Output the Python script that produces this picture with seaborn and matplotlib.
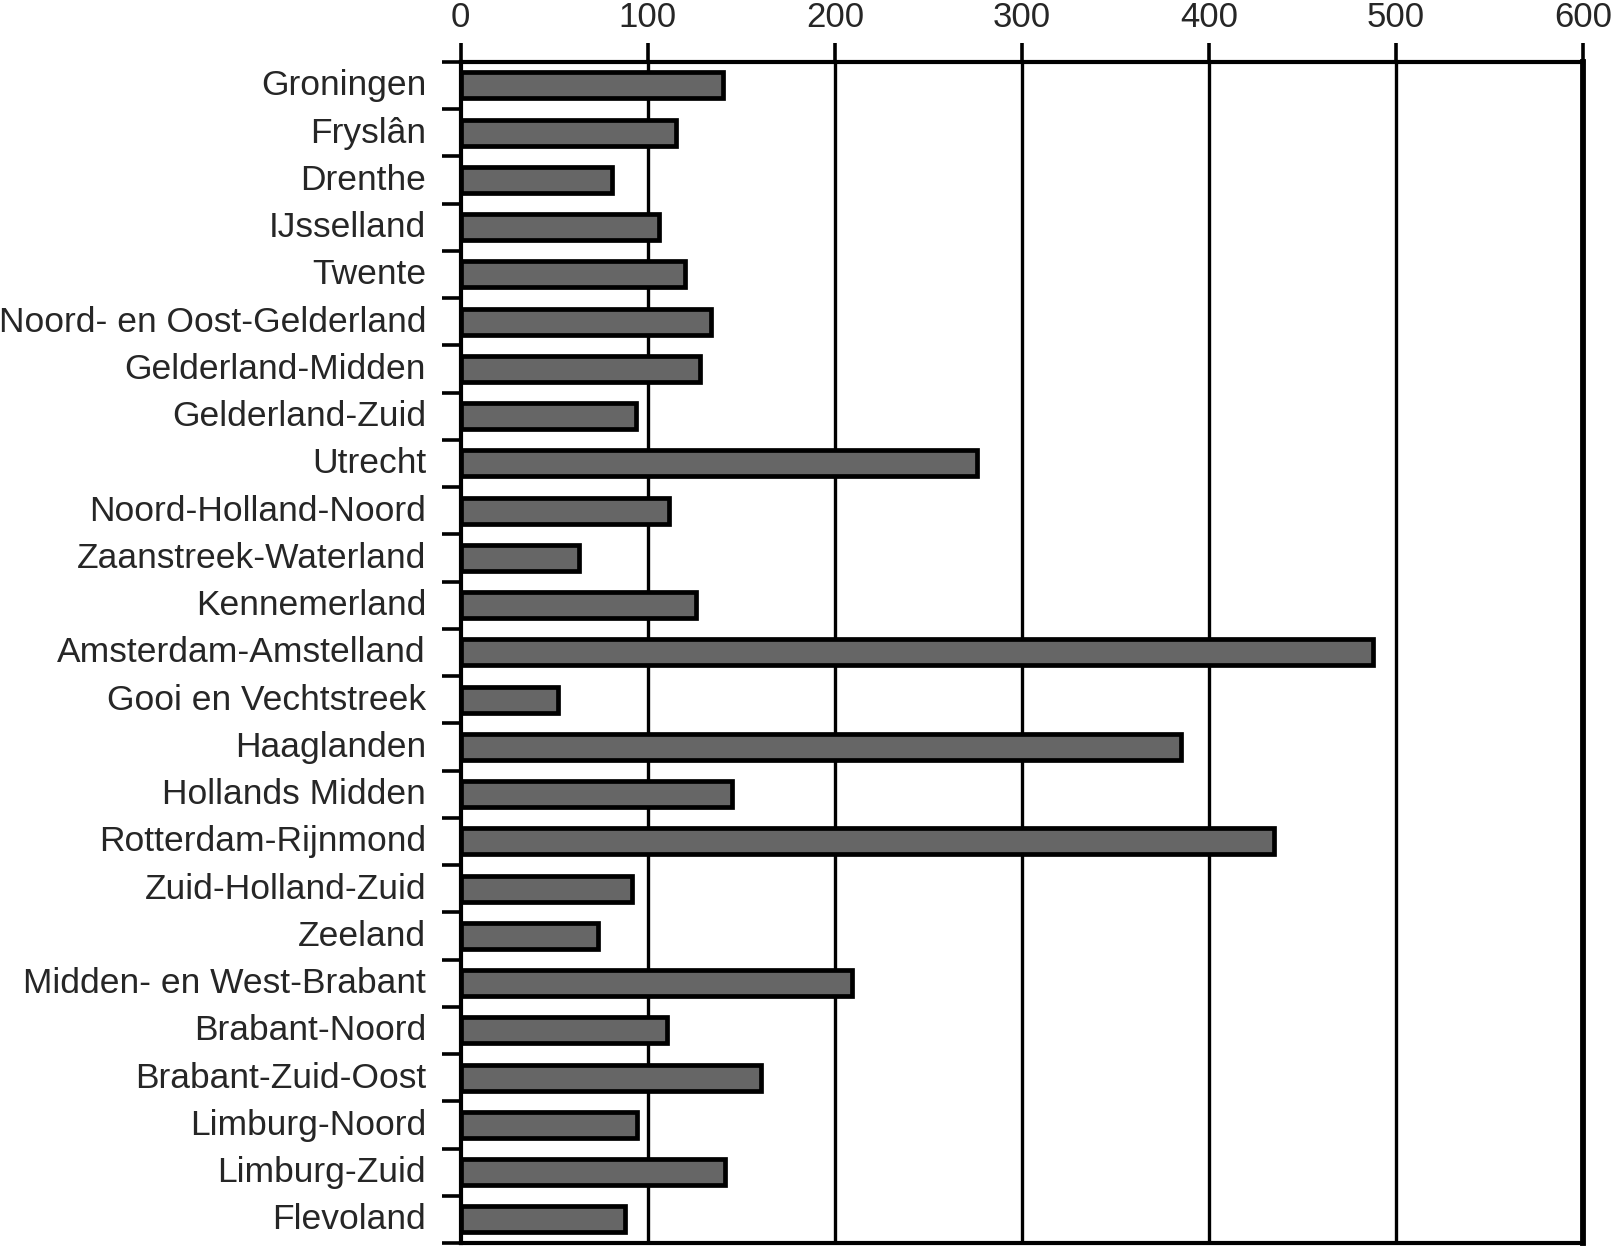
import pandas as pd
import matplotlib
matplotlib.use("Agg")
import matplotlib.pyplot as plt
import matplotlib.transforms as mtransforms
import seaborn as sns
from matplotlib.ticker import FixedLocator

# regio's en waarden
regios = [
    "Groningen", "Fryslân", "Drenthe", "IJsselland", "Twente",
    "Noord- en Oost-Gelderland", "Gelderland-Midden", "Gelderland-Zuid",
    "Utrecht", "Noord-Holland-Noord", "Zaanstreek-Waterland", "Kennemerland",
    "Amsterdam-Amstelland", "Gooi en Vechtstreek", "Haaglanden",
    "Hollands Midden", "Rotterdam-Rijnmond", "Zuid-Holland-Zuid", "Zeeland",
    "Midden- en West-Brabant", "Brabant-Noord", "Brabant-Zuid-Oost",
    "Limburg-Noord", "Limburg-Zuid", "Flevoland",
]
waarden = [
    140, 115, 81, 106, 120,
    134, 128, 93.5,
    276, 111.5, 63, 126,
    487.5, 52, 385,
    145, 435, 91.5, 73.5,
    209, 110.5, 160.5,
    94.5, 141.5, 88,
]
x_ticks = [0, 100, 200, 300, 400, 500, 600]

df = pd.DataFrame({"regio": regios, "waarde": waarden})

sns.set_style("white")
plt.rcParams["font.family"] = ["Liberation Sans", "DejaVu Sans"]

fig = plt.figure(figsize=(16.11, 12.46), dpi=100)
ax = fig.add_axes([0.286, 0.0024, 0.6966, 0.948])

sns.barplot(data=df, y="regio", x="waarde", orient="h", color="#666666",
            edgecolor="black", linewidth=3.4, width=0.55, saturation=1, ax=ax, zorder=3)

ax.set_xlim(0, 600)
ax.set_ylim(24.5, -0.5)
ax.set_xlabel("")
ax.set_ylabel("")

# x-as bovenaan
ax.xaxis.tick_top()
ax.set_xticks(x_ticks)
ax.set_xticklabels([str(t) for t in x_ticks], fontsize=25)
ax.tick_params(axis="x", which="major", length=14, width=2.6, pad=6, color="black")

# gridlijnen
for t in x_ticks[1:-1]:
    ax.axvline(t, color="black", linewidth=2.4, zorder=1)

# y-as: labels zonder streepjes, streepjes tussen categorieën
ax.tick_params(axis="y", which="major", length=0, pad=25, labelsize=25.5)
shift = mtransforms.ScaledTranslation(0, 3 / 100, fig.dpi_scale_trans)
for lbl in ax.get_yticklabels():
    lbl.set_verticalalignment("center_baseline")
    lbl.set_transform(lbl.get_transform() + shift)
ax.yaxis.set_minor_locator(FixedLocator([i - 0.5 for i in range(len(regios) + 1)]))
ax.tick_params(axis="y", which="minor", length=14, width=2.6, left=True, color="black")

for side, lw in [("top", 3), ("left", 3), ("right", 4.2), ("bottom", 3)]:
    ax.spines[side].set_visible(True)
    ax.spines[side].set_linewidth(lw)
    ax.spines[side].set_color("black")

fig.savefig("out.png", dpi=100)
